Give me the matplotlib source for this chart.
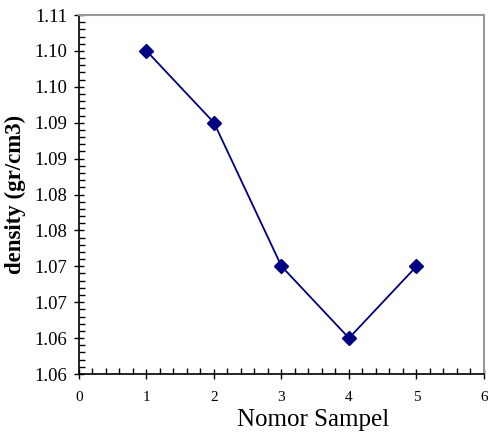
import matplotlib
matplotlib.use("Agg")
import matplotlib.pyplot as plt
from matplotlib.ticker import MultipleLocator

# data
sampel = [1, 2, 3, 4, 5]
density = [1.100, 1.090, 1.070, 1.060, 1.070]

x_ticks = [0, 1, 2, 3, 4, 5, 6]
y_ticks = [1.055, 1.060, 1.065, 1.070, 1.075, 1.080, 1.085, 1.090, 1.095, 1.100, 1.105]
y_labels = ["1.06", "1.06", "1.07", "1.07", "1.08", "1.08", "1.09", "1.09", "1.10", "1.10", "1.11"]

plt.rcParams["font.family"] = ["Liberation Serif", "DejaVu Serif"]

fig = plt.figure(figsize=(4.89, 4.40), dpi=100)
ax = fig.add_axes([79 / 489, 66 / 440, 405 / 489, 359 / 440])

ax.plot(sampel, density, color="#000080", linewidth=1.3, marker="D",
        markersize=7, markerfacecolor="#000080", markeredgecolor="#000080")

ax.set_xlim(0, 6)
ax.set_ylim(1.055, 1.105)
ax.set_xticks(x_ticks)
ax.set_yticks(y_ticks)
ax.set_yticklabels(y_labels)
ax.xaxis.set_minor_locator(MultipleLocator(0.2))
ax.yaxis.set_minor_locator(MultipleLocator(0.001))

ax.tick_params(which="major", direction="inout", length=7, width=1, pad=5)
ax.tick_params(which="minor", direction="in", length=4, width=1)
ax.tick_params(axis="y", labelsize=13.5)
ax.tick_params(axis="x", labelsize=11, pad=9)

for side in ["top", "right"]:
    ax.spines[side].set_color("#999999")
    ax.spines[side].set_linewidth(1.5)
for side in ["left", "bottom"]:
    ax.spines[side].set_color("black")
    ax.spines[side].set_linewidth(1.2)

fig.text(313 / 489, 1 - 420 / 440, "Nomor Sampel", fontsize=18, ha="center", va="center")
fig.text(15 / 489, 1 - 194 / 440, "density (gr/cm3)", fontsize=16.5, fontweight="bold",
         rotation=90, ha="center", va="center")

fig.savefig("out.png", dpi=100)
